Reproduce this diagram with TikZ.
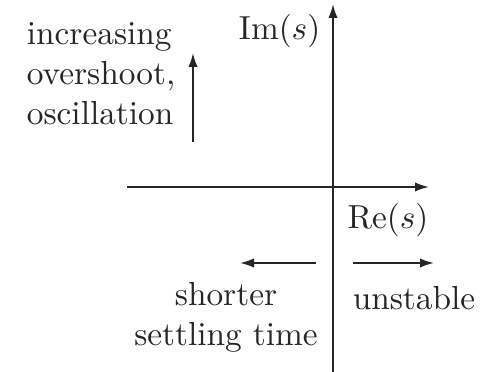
\documentclass[tikz,border=0pt]{standalone}
\usetikzlibrary{arrows.meta}
\begin{document}
\begin{tikzpicture}[x=0.3pt,y=-0.3pt,
  axis/.style={line width=0.6pt,draw=black!85,-{Latex[length=4.2pt,width=2.8pt]}},
  hint/.style={line width=0.55pt,draw=black!85,-{Latex[length=4.2pt,width=2.8pt]}},
  lbl/.style={inner sep=0pt,text=black!85,font=\normalsize}]
\useasboundingbox (0,0) rectangle (501,372);
% axes
\coordinate (vb) at (333,372);
\coordinate (vt) at (333,4);
\coordinate (hl) at (127,187);
\coordinate (hr) at (429,187);
\draw[axis] (vb) -- (vt);
\draw[axis] (hl) -- (hr);
% axis labels
\node[lbl,anchor=east] (im) at (321,31) {$\mathrm{Im}(s)$};
\node[lbl] (re) at (388,220) {$\mathrm{Re}(s)$};
% up arrow and text
\coordinate (ua) at (193,142);
\coordinate (ub) at (193,53);
\draw[hint] (ua) -- (ub);
\node[lbl,anchor=east,align=left] (inc) at (176,74) {increasing\\overshoot,\\oscillation};
% left arrow
\coordinate (la) at (316,263);
\coordinate (lb) at (240,263);
\draw[hint] (la) -- (lb);
\node[lbl,align=center] (short) at (226,317) {shorter\\settling time};
% right arrow
\coordinate (ra) at (353,263);
\coordinate (rb) at (434,263);
\draw[hint] (ra) -- (rb);
\node[lbl] (unst) at (414,298) {unstable};
\end{tikzpicture}
\end{document}
